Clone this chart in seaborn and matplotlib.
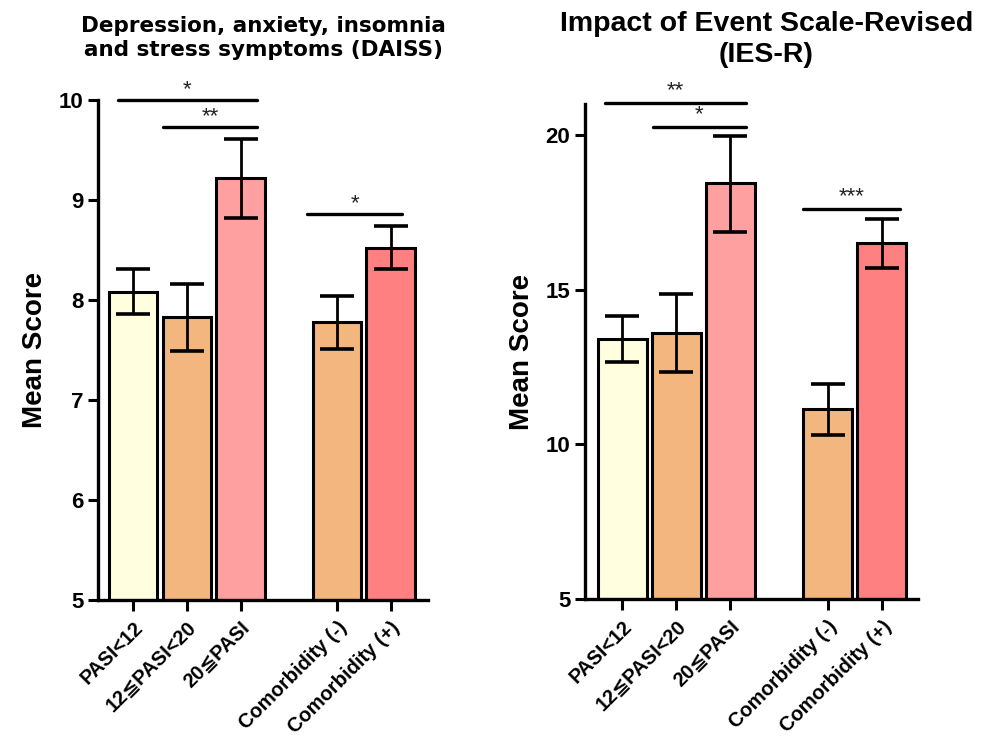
import numpy as np
import pandas as pd
import matplotlib
matplotlib.use("Agg")
import matplotlib.pyplot as plt
import seaborn as sns

sns.set_style("ticks")
plt.rcParams["font.family"] = ["Liberation Sans", "DejaVu Sans", "Noto Sans CJK JP"]
plt.rcParams["text.color"] = "black"
plt.rcParams["axes.labelcolor"] = "black"
plt.rcParams["xtick.color"] = "black"
plt.rcParams["ytick.color"] = "black"
plt.rcParams["axes.edgecolor"] = "black"

# ---- data ----
groups = ["PASI<12", "12≦PASI<20", "20≦PASI", "Comorbidity (-)", "Comorbidity (+)"]
positions = [0, 1, 2, 3.8, 4.8]
colors = ["#FFFFE0", "#F2B67E", "#FFA0A0", "#F2B67E", "#FF8080"]

daiss_mean = [8.08, 7.83, 9.22, 7.78, 8.52]
daiss_low = [7.86, 7.49, 8.82, 7.51, 8.31]
daiss_high = [8.31, 8.16, 9.61, 8.04, 8.74]

ies_mean = [13.40, 13.60, 18.45, 11.13, 16.50]
ies_low = [12.67, 12.35, 16.85, 10.29, 15.69]
ies_high = [14.14, 14.86, 19.97, 11.94, 17.27]

# significance brackets: (x start, x end, y, label)
daiss_sig = [(-0.29, 2.31, 10.0, "*"), (0.55, 2.31, 9.73, "**"), (3.24, 5.02, 8.86, "*")]
ies_sig = [(-0.32, 2.29, 21.03, "**"), (0.56, 2.29, 20.27, "*"), (3.34, 5.14, 17.62, "***")]

fig = plt.figure(figsize=(9.92, 7.46), dpi=100)
ax1 = fig.add_axes([0.0988, 0.1957, 0.3327, 0.6702])
ax2 = fig.add_axes([0.5897, 0.1971, 0.3357, 0.6635])


def draw_panel(ax, mean, low, high, sig, ylim, yticks, xlim, title, title_font, star_off):
    df = pd.DataFrame({"pos": positions, "group": groups, "mean": mean})
    sns.barplot(data=df, x="pos", y="mean", hue="group", palette=dict(zip(groups, colors)),
                native_scale=True, width=0.9, saturation=1, edgecolor="black", linewidth=2.2,
                legend=False, errorbar=None, ax=ax)
    m = np.array(mean)
    yerr = [m - np.array(low), np.array(high) - m]
    ax.errorbar(positions, m, yerr=yerr, fmt="none", ecolor="black", elinewidth=2.0,
                capsize=12, capthick=2.6, zorder=5)
    # bars start at the axis floor
    for p in ax.patches:
        p.set_y(ylim[0])
        p.set_height(p.get_height() - ylim[0])
    for x1, x2, y, lab in sig:
        ax.plot([x1, x2], [y, y], color="black", lw=2.4, clip_on=False, solid_capstyle="round")
        ax.text((x1 + x2) / 2, y + star_off, lab, ha="center", va="bottom",
                fontsize=16, color="#222222", clip_on=False)
    ax.set_ylim(*ylim)
    ax.set_yticks(yticks)
    ax.set_xlim(*xlim)
    ax.set_xticks(positions)
    ax.set_xticklabels(groups, rotation=45, ha="right", rotation_mode="anchor",
                       fontsize=14.5, fontweight="bold")
    ax.tick_params(axis="y", labelsize=16, width=2.2, length=7, direction="out")
    ax.tick_params(axis="x", width=2.2, length=8, direction="out", pad=5)
    for t in ax.get_yticklabels():
        t.set_fontweight("bold")
    ax.set_xlabel("")
    ax.set_ylabel("Mean Score", fontsize=20, fontweight="bold", labelpad=8)
    for s in ["left", "bottom"]:
        ax.spines[s].set_linewidth(2.4)
    sns.despine(ax=ax)
    ax.set_title(title, fontsize=title_font[0], fontweight="bold", family=title_font[1],
                 pad=title_font[2], linespacing=1.25, x=title_font[3])


draw_panel(ax1, daiss_mean, daiss_low, daiss_high, daiss_sig, (5, 10), [5, 6, 7, 8, 9, 10],
           (-0.66, 5.5), "Depression, anxiety, insomnia\nand stress symptoms (DAISS)",
           (15.5, "DejaVu Sans", 32, 0.5), 0.0)
draw_panel(ax2, ies_mean, ies_low, ies_high, ies_sig, (5, 21), [5, 10, 15, 20],
           (-0.69, 5.47), "Impact of Event Scale-Revised\n(IES-R)",
           (20.5, "Liberation Sans", 30, 0.545), 0.05)

fig.savefig("out.png", dpi=100)
